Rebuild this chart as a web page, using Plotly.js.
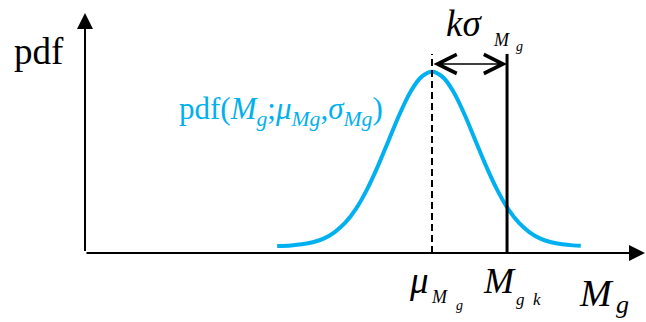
<!DOCTYPE html>
<html>
<head>
<meta charset="utf-8">
<script src="https://cdn.plot.ly/plotly-3.0.1.min.js"></script>
<style>
  html, body { margin: 0; padding: 0; background: #fff; }
  #chart { width: 646px; height: 322px; }
</style>
</head>
<body>
<div id="chart"></div>
<script>
// Normal density of the moment M_g, sampled along the M_g axis (σ = 1 unit)
const curveX = [4.43, 4.75, 5.0, 5.25, 5.5, 5.75, 6.0, 6.25, 6.5, 6.75, 7.0, 7.25, 7.5, 7.75,
                8.0, 8.25, 8.5, 8.75, 9.0, 9.25, 9.5, 9.75, 10.0, 10.25, 10.5, 10.75, 11.0, 11.25, 11.43];
const curveY = [0.039, 0.042, 0.048, 0.059, 0.079, 0.114, 0.167, 0.245, 0.350, 0.478, 0.621, 0.764, 0.887, 0.970,
                1.000, 0.970, 0.887, 0.764, 0.621, 0.478, 0.350, 0.245, 0.167, 0.114, 0.079, 0.059, 0.048, 0.042, 0.040];

// Key abscissae: mean μ_Mg and characteristic value M_gk = μ + kσ
const muMg = 8.0;
const mGk = 9.73;

// Axis extents (arrow tips) and the height of the marker lines / kσ arrow
const xAxisEnd = 12.91;
const yAxisEnd = 1.324;
const markerTop = 1.098;
const spanArrowY = 1.043;

const W = 646, H = 322;
const xRange = [-1.9597, 12.9337];
const yRange = [-0.3806, 1.3955];

const CYAN = '#00B0F0';
const SERIF = 'Liberation Serif';

// Text placed by left edge and baseline (in pixels of the figure)
function label(text, left, baseline, size, color) {
  return {
    text: text,
    xref: 'paper', yref: 'paper',
    x: left / W,
    y: 1 - (baseline - 0.891 * size) / H,
    xanchor: 'left', yanchor: 'top',
    borderpad: 0,
    showarrow: false,
    font: { family: SERIF, size: size, color: color || '#000' }
  };
}

function arrow(x, y, ax, ay, opts) {
  return Object.assign({
    x: x, y: y, ax: ax, ay: ay,
    xref: 'x', yref: 'y', axref: 'x', ayref: 'y',
    text: ' ', showarrow: true,
    font: { size: 1 },
    arrowcolor: '#000', standoff: 0, startstandoff: 0
  }, opts);
}

const traces = [{
  type: 'scatter', mode: 'lines',
  x: curveX, y: curveY,
  line: { color: CYAN, width: 4, shape: 'spline', smoothing: 1 },
  hoverinfo: 'skip'
}];

const shapes = [
  { type: 'line', xref: 'x', yref: 'y', x0: muMg, x1: muMg, y0: 0, y1: markerTop,
    line: { color: '#000', width: 2, dash: '7px,4px' } },
  { type: 'line', xref: 'x', yref: 'y', x0: mGk, x1: mGk, y0: 0, y1: markerTop,
    line: { color: '#000', width: 3 } }
];

const annotations = [
  // axes with arrow heads
  arrow(xAxisEnd, 0, 0, 0, { arrowhead: 2, arrowwidth: 2, arrowsize: 1.6 }),
  arrow(0, yAxisEnd, 0, 0, { arrowhead: 2, arrowwidth: 2, arrowsize: 1.6 }),
  // kσ span between μ and M_gk
  arrow(mGk, spanArrowY, muMg, spanArrowY, {
    arrowside: 'end+start', arrowhead: 5, startarrowhead: 5,
    arrowwidth: 1.5, arrowsize: 2.5, startarrowsize: 2.5
  }),

  label('pdf', 13, 63, 37),
  label('pdf(<i>M</i><sub><i>g</i></sub>;<i>μ</i><sub><i>Mg</i></sub>,<i>σ</i><sub><i>Mg</i></sub>)', 178, 118, 31, CYAN),

  label('<i>kσ</i>', 445, 35, 37),
  label('<i>M</i>', 492, 45, 18),
  label('<i>g</i>', 515, 50, 14),

  label('<i>μ</i>', 408, 292, 37),
  label('<i>M</i>', 430, 302, 18),
  label('<i>g</i>', 455, 309, 14),

  label('<i>M</i>', 482, 292, 36),
  label('<i>g</i>', 515, 304, 17),
  label('<i>k</i>', 532, 304, 17),

  label('<i>M</i>', 578, 305, 38),
  label('<i>g</i>', 615, 312, 26)
];

const layout = {
  width: W, height: H,
  margin: { l: 0, r: 0, t: 0, b: 0 },
  paper_bgcolor: '#fff', plot_bgcolor: '#fff',
  showlegend: false,
  xaxis: { range: xRange, visible: false, fixedrange: true },
  yaxis: { range: yRange, visible: false, fixedrange: true },
  shapes: shapes,
  annotations: annotations
};

Plotly.newPlot('chart', traces, layout, { displayModeBar: false, staticPlot: true });
</script>
</body>
</html>
